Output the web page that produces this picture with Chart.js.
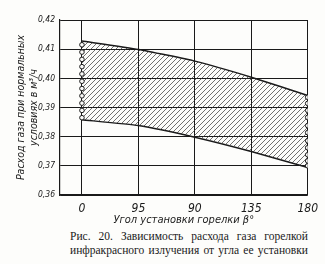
<!DOCTYPE html>
<html>
<head>
<meta charset="utf-8">
<script src="https://cdn.jsdelivr.net/npm/chart.js@4/dist/chart.umd.min.js"></script>
<style>
  body { margin: 0; background: #fdfdfb; }
  #wrap { position: relative; width: 325px; height: 264px; overflow: hidden; }
  #chart { position: absolute; left: 0; top: 0; }
  .cap {
    position: absolute; left: 70px; width: 238px; white-space: nowrap;
    font: 11.5px "Liberation Serif", "DejaVu Serif", serif; line-height: 14px;
    color: #1a1a1a; text-align: justify; text-align-last: justify;
  }
</style>
</head>
<body>
<div id="wrap">
  <canvas id="chart" width="325" height="228"></canvas>
  <div class="cap" style="top:229px">Рис. 20. Зависимость расхода газа горелкой</div>
  <div class="cap" style="top:243px">инфракрасного излучения от угла ее установки</div>
</div>
<script>
// angle of the burner, degrees
const angles = [0, 45, 90, 135, 180];
// tick labels as printed (the 45 is printed as "95")
const angleLabels = ['0', '95', '90', '135', '180'];
// gas flow band, m3/h
const upperFlow = [0.4128, 0.4099, 0.4059, 0.4004, 0.3941];
const lowerFlow = [0.3858, 0.3838, 0.3798, 0.3749, 0.3694];
// measured points at 0 and 180 degrees
const pointsAt0 = [0.4115, 0.409, 0.4065, 0.404, 0.4015, 0.399, 0.3965, 0.394, 0.3915, 0.389, 0.3865];
const pointsAt180 = [0.3935, 0.3914, 0.389, 0.3866, 0.3838, 0.3814, 0.3786, 0.3762, 0.3738, 0.3717, 0.370];

const ink = '#1a1a1a';
const italicFont = '"DejaVu Sans Condensed", "Liberation Sans Narrow", "DejaVu Sans", sans-serif';

// diagonal hatch ///
function makeHatch() {
  const c = document.createElement('canvas');
  c.width = 5; c.height = 5;
  const g = c.getContext('2d');
  g.strokeStyle = '#333';
  g.lineWidth = 0.7;
  g.beginPath();
  g.moveTo(0, 5); g.lineTo(5, 0);
  g.moveTo(-1, 1); g.lineTo(1, -1);
  g.moveTo(4, 6); g.lineTo(6, 4);
  g.stroke();
  return g.createPattern(c, 'repeat');
}

const ctx = document.getElementById('chart').getContext('2d');
const hatch = makeHatch();

new Chart(ctx, {
  type: 'line',
  data: {
    datasets: [
      {
        data: angles.map((a, i) => ({ x: a, y: upperFlow[i] })),
        borderColor: ink,
        borderWidth: 1.5,
        backgroundColor: hatch,
        fill: '+1',
        pointRadius: 0,
        tension: 0.15,
        order: 2
      },
      {
        data: angles.map((a, i) => ({ x: a, y: lowerFlow[i] })),
        borderColor: ink,
        borderWidth: 1.5,
        fill: false,
        pointRadius: 0,
        tension: 0.15,
        order: 2
      },
      {
        data: pointsAt0.map(v => ({ x: 0, y: v })),
        showLine: false,
        pointRadius: 2.3,
        pointBorderWidth: 1,
        pointBorderColor: ink,
        pointBackgroundColor: '#fdfdfb',
        order: 0
      },
      {
        data: pointsAt180.map(v => ({ x: 180, y: v })),
        showLine: false,
        pointRadius: 2.3,
        pointBorderWidth: 1,
        pointBorderColor: ink,
        pointBackgroundColor: '#fdfdfb',
        order: 0
      }
    ]
  },
  options: {
    responsive: false,
    animation: false,
    layout: { padding: { left: 0, top: 20, right: 17, bottom: 0 } },
    plugins: { legend: { display: false }, tooltip: { enabled: false } },
    scales: {
      x: {
        type: 'linear',
        min: -17.5,
        max: 180,
        afterBuildTicks: (scale) => { scale.ticks = angles.map(v => ({ value: v })); },
        afterFit: (scale) => { scale.height = 33; },
        border: { display: true, color: ink, width: 1.2 },
        grid: { color: ink, lineWidth: 1, drawTicks: false },
        ticks: {
          padding: 7,
          color: ink,
          maxRotation: 0,
          font: { family: italicFont, size: 12, style: 'italic' },
          callback: (v) => angleLabels[angles.indexOf(v)]
        },
        title: {
          display: true,
          text: 'Угол установки горелки β°',
          color: ink,
          padding: { top: 0, bottom: 1 },
          font: { family: italicFont, size: 11, style: 'italic' }
        }
      },
      y: {
        min: 0.36,
        max: 0.42,
        afterFit: (scale) => { scale.width = 60; },
        border: { display: true, color: ink, width: 1.2 },
        grid: { color: ink, lineWidth: 1, drawTicks: false },
        ticks: {
          stepSize: 0.01,
          padding: 5,
          color: ink,
          font: { family: italicFont, size: 8.5, style: 'italic' },
          callback: (v) => v.toFixed(2).replace('.', ',')
        },
        title: {
          display: true,
          text: ['Расход газа при нормальных', 'условиях в м³/ч'],
          color: ink,
          padding: { top: 14, bottom: 0 },
          font: { family: italicFont, size: 10.5, style: 'italic', lineHeight: 1.3 }
        }
      }
    }
  }
});
</script>
</body>
</html>
